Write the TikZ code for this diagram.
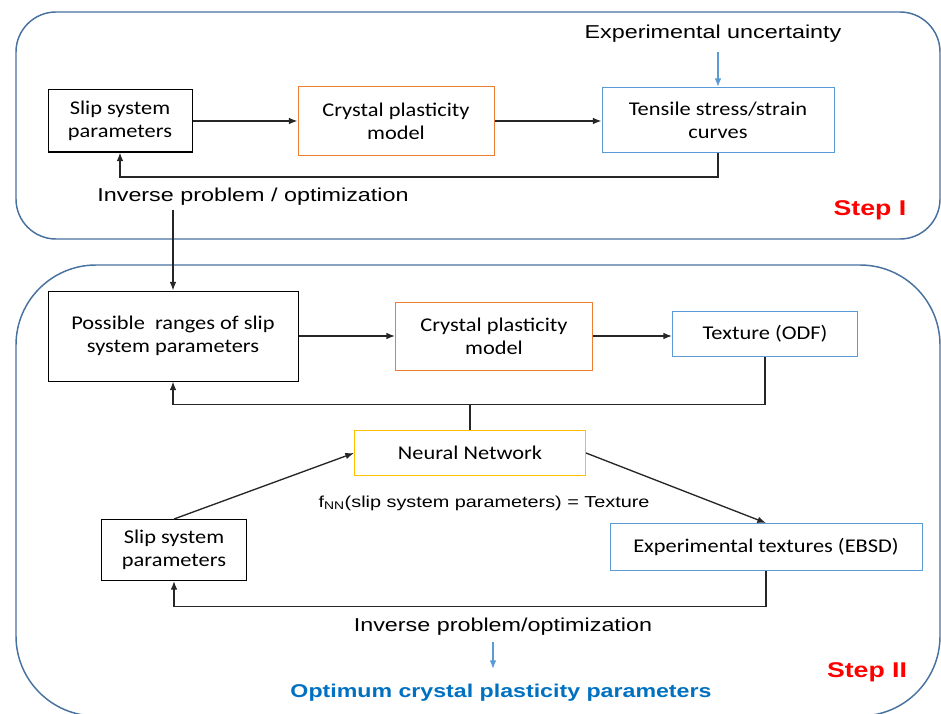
\documentclass[tikz,border=0pt]{standalone}
\usepackage{fontspec}
\setmainfont{Liberation Sans}[FakeStretch=1.25]
\newfontfamily\boxfont{Carlito}[FakeStretch=1.15]
\usetikzlibrary{arrows.meta,positioning}
\definecolor{framesteel}{RGB}{72,114,160}
\definecolor{modelorange}{RGB}{237,125,49}
\definecolor{dataskyblue}{RGB}{91,155,213}
\definecolor{nnyellow}{RGB}{255,192,0}
\definecolor{optblue}{RGB}{0,112,192}
\definecolor{stepred}{RGB}{255,0,0}

\begin{document}
\begin{tikzpicture}[x=0.75pt, y=-0.75pt, >={Latex[length=6.5pt,width=5pt]},
    box/.style={draw, line width=0.75pt, align=center, inner sep=0pt, font=\boxfont\fontsize{14.6}{17}\selectfont},
    frame/.style={draw=framesteel, line width=1.1pt},
    flow/.style={->, line width=1pt, black!85},
    cue/.style={->, line width=1pt, dataskyblue},
    lbl/.style={font=\fontsize{14}{16}\selectfont},
    steplbl/.style={font=\bfseries\fontsize{16}{18}\selectfont, text=stepred}]
  \useasboundingbox (0,0) rectangle (941,713);

  \draw[frame, rounded corners=30pt] (16,12) rectangle (940,239);
  \draw[frame, rounded corners=60pt] (16,265) rectangle (940,716);

  \node[box, minimum width=108pt, minimum height=46.5pt] (slipA) at (120,121) {Slip system\\parameters};
  \node[box, draw=modelorange, minimum width=147pt, minimum height=51pt] (cpA) at (396,121) {Crystal plasticity\\model};
  \node[box, draw=dataskyblue, minimum width=174pt, minimum height=48.75pt] (tensile) at (718,120) {Tensile stress/strain\\curves};
  \node[lbl] (uncert) at (713,34) {Experimental uncertainty};
  \node[lbl] (invA) at (253,197) {Inverse problem / optimization};
  \node[steplbl] (stepA) at (870,210) {Step I};
  \coordinate (uncertfoot) at (718,52);

  \draw[flow] (slipA) -- (cpA);
  \draw[flow] (cpA.east) -- (cpA.east -| tensile.west);
  \draw[cue] (uncertfoot) -- (tensile.north);
  \draw[flow] (tensile.south) -- ++(0,24) -| (slipA.south);

  \node[box, minimum width=187.5pt, minimum height=67.5pt] (ranges) at (173,336) {Possible\ \ ranges of slip\\system parameters};
  \node[box, draw=modelorange, minimum width=147.75pt, minimum height=51pt] (cpB) at (494,336) {Crystal plasticity\\model};
  \node[box, draw=dataskyblue, minimum width=138.75pt, minimum height=33.75pt] (odf) at (765,334) {Texture (ODF)};
  \node[box, draw=nnyellow, minimum width=173.25pt, minimum height=33.75pt] (nn) at (470,453) {Neural Network};
  \node[box, minimum width=108.75pt, minimum height=45.75pt] (slipB) at (174,550) {Slip system\\parameters};
  \node[box, draw=dataskyblue, minimum width=234pt, minimum height=35.25pt] (ebsd) at (766,547) {Experimental textures (EBSD)};
  \node[font=\fontsize{11.9}{14}\selectfont] (fnn) at (484,503) {f\textsubscript{NN}(slip system parameters) = Texture};
  \node[lbl] (invB) at (503,627) {Inverse problem/optimization};
  \node[font=\bfseries\fontsize{13.9}{16}\selectfont, text=optblue] (optimum) at (501,693) {Optimum crystal plasticity parameters};
  \node[steplbl] (stepB) at (867,672) {Step II};
  \coordinate (invfoot) at (493,642);
  \coordinate (opthead) at (493,669);

  \draw[flow] (invA.south -| ranges.north) -- (ranges.north);
  \draw[flow] (ranges) -- (cpB);
  \draw[flow] (cpB.east) -- (cpB.east -| odf.west);
  \draw[flow] (odf.south) -- ++(0,47.5) coordinate (fbjoin) -| (ranges.south);
  \draw[line width=1pt, black!85] (nn.north) -- (nn.north |- fbjoin);
  \draw[flow] (slipB.north) -- (nn.west);
  \draw[flow] (nn.east) -- (ebsd.north);
  \draw[flow] (ebsd.south) -- ++(0,35.5) -| (slipB.south);
  \draw[cue] (invfoot) -- (opthead);
\end{tikzpicture}
\end{document}
